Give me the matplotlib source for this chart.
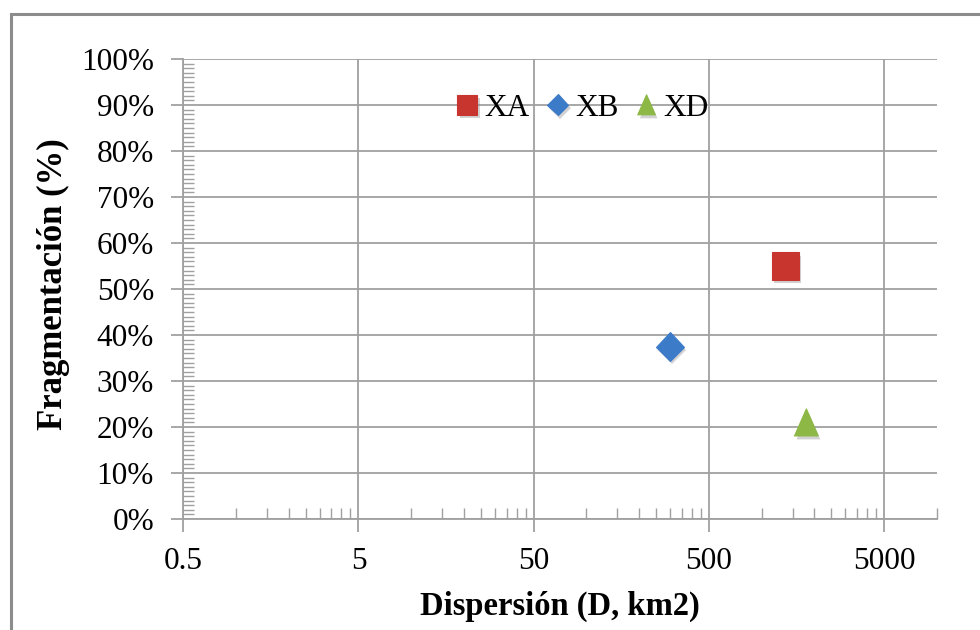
import matplotlib
matplotlib.use("Agg")
import matplotlib.pyplot as plt
import matplotlib.patheffects as pe
from matplotlib.patches import Rectangle
from matplotlib.path import Path
from matplotlib.ticker import FixedLocator, MultipleLocator, FuncFormatter, NullFormatter

plt.rcParams['font.family'] = ['Liberation Serif', 'DejaVu Serif']

# Data: dispersion (km2) vs fragmentation (fraction)
series_names = ["XA", "XB", "XD"]
dispersion = [1370, 300, 1800]
fragmentation = [0.55, 0.375, 0.21]
colors = ["#C8352F", "#3C7BC8", "#8DB845"]

x_major_ticks = [0.5, 5, 50, 500, 5000]
x_tick_labels = ["0.5", "5", "50", "500", "5000"]

# Excel-style triangle: taller than wide
tri = Path([(0, 1), (-0.88, -1), (0.88, -1), (0, 1)],
           [Path.MOVETO, Path.LINETO, Path.LINETO, Path.CLOSEPOLY])
markers = ["s", "D", tri]
sizes = [19.5, 14.5, 19.5]

fig = plt.figure(figsize=(9.8, 6.3), dpi=100)
ax = fig.add_axes([0.187, 0.1762, 0.769, 0.7301])

grid_c = "#A0A0A0"
shadow = [pe.SimplePatchShadow(offset=(1.5, -2.5), shadow_rgbFace="#808080", alpha=0.35),
          pe.Normal()]

for name, xv, yv, c, m, s in zip(series_names, dispersion, fragmentation, colors, markers, sizes):
    ax.plot([xv], [yv], linestyle="none", marker=m, markersize=s,
            markerfacecolor=c, markeredgecolor=c, markeredgewidth=0.8,
            label=name, zorder=5, path_effects=shadow)

ax.set_xscale("log")
ax.set_xlim(0.5, 10000)
ax.set_ylim(0, 1.0)

ax.xaxis.set_major_locator(FixedLocator(x_major_ticks))
ax.set_xticklabels(x_tick_labels)
minor_x = [m * 0.5 * 10 ** k for k in range(0, 5) for m in range(2, 10)]
minor_x = [v for v in minor_x if v <= 10000]
ax.xaxis.set_minor_locator(FixedLocator(minor_x))
ax.xaxis.set_minor_formatter(NullFormatter())

ax.yaxis.set_major_locator(MultipleLocator(0.1))
ax.yaxis.set_minor_locator(MultipleLocator(0.01))
ax.yaxis.set_major_formatter(FuncFormatter(lambda v, p: f"{v * 100:.0f}%"))

ax.grid(True, which="major", color=grid_c, linewidth=1.3)
ax.set_axisbelow(True)
for side in ["top", "right"]:
    ax.spines[side].set_visible(False)
for side in ["left", "bottom"]:
    ax.spines[side].set_color(grid_c)
    ax.spines[side].set_linewidth(1.3)

ax.tick_params(which="major", direction="out", length=9, width=1.3, color=grid_c,
               labelsize=22.5, labelcolor="black")
ax.tick_params(axis="x", which="major", pad=11)
ax.tick_params(axis="y", which="major", pad=12)
ax.tick_params(which="minor", direction="in", length=8, width=1.0, color=grid_c)

ax.set_xlabel("Dispersión (D, km2)", fontsize=23.5, fontweight="bold", labelpad=11)
ax.set_ylabel("Fragmentación (%)", fontsize=25, fontweight="bold")
ax.yaxis.set_label_coords(-0.150, 0.51)

leg = ax.legend(loc="center", bbox_to_anchor=(0.527, 0.893), ncol=3, frameon=False,
                fontsize=22.5, markerscale=0.74, handletextpad=0.05, columnspacing=0.4,
                handlelength=1.0, borderpad=0)

# Chart-area border
fig.add_artist(Rectangle((10.8 / 980, -0.2), 1.5, 1 - 13.7 / 630 + 0.2,
                         transform=fig.transFigure, fill=False,
                         edgecolor="#8C8C8C", linewidth=2.2))

fig.savefig("out.png", dpi=100)
